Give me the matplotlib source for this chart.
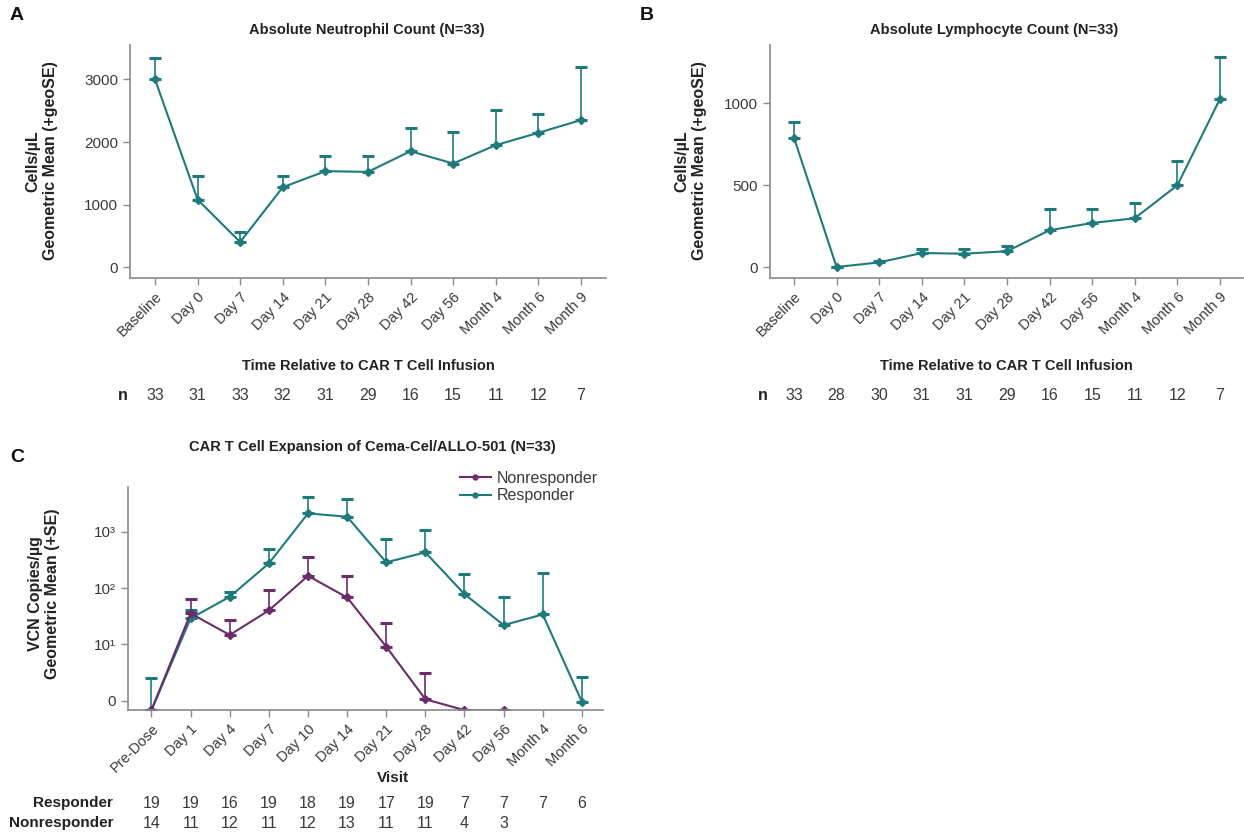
import numpy as np
import matplotlib
matplotlib.use("Agg")
import matplotlib.pyplot as plt
from matplotlib.transforms import blended_transform_factory
from matplotlib.lines import Line2D

plt.rcParams['font.family'] = ['Liberation Sans', 'DejaVu Sans']

# ---------------- data ----------------
timepoints_ab = ["Baseline", "Day 0", "Day 7", "Day 14", "Day 21", "Day 28",
                 "Day 42", "Day 56", "Month 4", "Month 6", "Month 9"]

anc_mean = [3000, 1082, 405, 1279, 1535, 1524, 1854, 1657, 1950, 2147, 2350]
anc_upper = [3341, 1455, 560, 1455, 1785, 1785, 2222, 2153, 2515, 2451, 3197]
anc_n = [33, 31, 33, 32, 31, 29, 16, 15, 11, 12, 7]

alc_mean = [789, 2, 30, 87, 83, 98, 226, 270, 299, 500, 1026]
alc_upper = [886, 2, 40, 114, 114, 132, 356, 358, 394, 646, 1280]
alc_n = [33, 28, 30, 31, 31, 29, 16, 15, 11, 12, 7]

visits_c = ["Pre-Dose", "Day 1", "Day 4", "Day 7", "Day 10", "Day 14", "Day 21",
            "Day 28", "Day 42", "Day 56", "Month 4", "Month 6"]
resp_mean = [0.68, 29, 70, 274, 2115, 1845, 286, 430, 78, 22, 34, 0.96]
resp_upper = [2.5, 41, 86, 486, 4200, 3855, 741, 1070, 177, 68, 182, 2.67]
nonresp_mean = [0.68, 35.5, 14.7, 40, 165, 68, 9.1, 1.06, 0.68, 0.68, np.nan, np.nan]
nonresp_upper = [0.68, 63, 27, 92, 360, 165, 23.6, 3.14, 0.68, 0.68, np.nan, np.nan]
resp_n = ["19", "19", "16", "19", "18", "19", "17", "19", "7", "7", "7", "6"]
nonresp_n = ["14", "11", "12", "11", "12", "13", "11", "11", "4", "3", "", ""]

TEAL = "#1E7A7B"
PURPLE = "#6B2C6B"
GREY = "#8A8A8A"
TXT = "#3A3A3A"

W, H = 1244, 835
fig = plt.figure(figsize=(W / 100, H / 100), dpi=100)


def px_axes(l, t, r, b):
    return fig.add_axes([l / W, 1 - b / H, (r - l) / W, (b - t) / H])


def style(ax):
    for s in ("top", "right"):
        ax.spines[s].set_visible(False)
    for s in ("left", "bottom"):
        ax.spines[s].set_color(GREY)
        ax.spines[s].set_linewidth(1.2)
    ax.tick_params(axis="both", colors=GREY, length=5, width=1.0, labelcolor=TXT,
                   labelsize=11)
    ax.tick_params(axis="x", labelsize=10.5)


def draw_series(ax, x, mean, upper, color, label=None):
    mean = np.asarray(mean, float)
    upper = np.asarray(upper, float)
    err = np.vstack([np.zeros_like(mean), upper - mean])
    ax.errorbar(x, mean, yerr=err, color=color, lw=1.5, marker="D", ms=4,
                elinewidth=1.2, capsize=4, capthick=2.2, label=label)


def ftext(x, y, s, **kw):
    fig.text(x / W, 1 - y / H, s, **kw)


def row_text(ax, xs, y, labels, **kw):
    tr = blended_transform_factory(ax.transData, fig.transFigure)
    for xi, lab in zip(xs, labels):
        ax.text(xi, 1 - y / H, str(lab), transform=tr, ha="center", va="center",
                fontsize=11.5, color=TXT, **kw)


# ---------------- Panel A ----------------
axA = px_axes(130, 45, 606, 278)
xA = np.arange(len(timepoints_ab))
draw_series(axA, xA, anc_mean, anc_upper, TEAL)
axA.set_xlim(-0.587, 10.59)
axA.set_ylim(-169, 3548)
axA.set_yticks([0, 1000, 2000, 3000])
axA.set_xticks(xA)
axA.set_xticklabels(timepoints_ab, rotation=45, ha="right", rotation_mode="anchor")
style(axA)
row_text(axA, xA, 396, anc_n)
ftext(123, 396, "n", ha="center", va="center", fontsize=11.5, fontweight="bold", color="#222222")
ftext(367, 30, "Absolute Neutrophil Count (N=33)", ha="center", va="center",
      fontsize=10.5, fontweight="bold", color="#222222")
ftext(368, 366, "Time Relative to CAR T Cell Infusion", ha="center", va="center",
      fontsize=10.5, fontweight="bold", color="#222222")
ftext(42, 161, "Cells/µL\nGeometric Mean (+geoSE)", ha="center", va="center",
      rotation=90, fontsize=11.5, fontweight="bold", color="#222222",
      multialignment="center", linespacing=1.2)
ftext(17, 15, "A", ha="center", va="center", fontsize=14, fontweight="bold", color="#111111")

# ---------------- Panel B ----------------
axB = px_axes(770, 45, 1243, 278)
draw_series(axB, xA, alc_mean, alc_upper, TEAL)
axB.set_xlim(-0.563, 10.54)
axB.set_ylim(-65, 1354)
axB.set_yticks([0, 500, 1000])
axB.set_xticks(xA)
axB.set_xticklabels(timepoints_ab, rotation=45, ha="right", rotation_mode="anchor")
style(axB)
row_text(axB, xA, 396, alc_n)
ftext(763, 396, "n", ha="center", va="center", fontsize=11.5, fontweight="bold", color="#222222")
ftext(994, 30, "Absolute Lymphocyte Count (N=33)", ha="center", va="center",
      fontsize=10.5, fontweight="bold", color="#222222")
ftext(1006, 366, "Time Relative to CAR T Cell Infusion", ha="center", va="center",
      fontsize=10.5, fontweight="bold", color="#222222")
ftext(691, 161, "Cells/µL\nGeometric Mean (+geoSE)", ha="center", va="center",
      rotation=90, fontsize=11.5, fontweight="bold", color="#222222",
      multialignment="center", linespacing=1.2)
ftext(647, 15, "B", ha="center", va="center", fontsize=14, fontweight="bold", color="#111111")

# ---------------- Panel C ----------------
axC = px_axes(128, 487, 603, 710)
xC = np.arange(len(visits_c))
draw_series(axC, xC, resp_mean, resp_upper, TEAL)
draw_series(axC, xC, nonresp_mean, nonresp_upper, PURPLE)
axC.set_yscale("log")
axC.set_xlim(-0.6, 11.54)
axC.set_ylim(10 ** -0.165, 10 ** 3.794)
axC.set_yticks([1, 10, 100, 1000])
axC.set_yticklabels(["0", "10¹", "10²", "10³"])
axC.yaxis.set_minor_locator(matplotlib.ticker.NullLocator())
axC.set_xticks(xC)
axC.set_xticklabels(visits_c, rotation=45, ha="right", rotation_mode="anchor")
style(axC)
handles = [Line2D([], [], color=PURPLE, lw=1.5, marker="o", ms=3.5),
           Line2D([], [], color=TEAL, lw=1.5, marker="o", ms=3.5)]
fig.legend(handles, ["Nonresponder", "Responder"], loc="upper right",
           bbox_to_anchor=(606 / W, 1 - 463 / H), frameon=False, fontsize=11.5,
           handlelength=1.9, handletextpad=0.4, labelspacing=0.15, borderpad=0,
           labelcolor=TXT)
row_text(axC, xC, 803, resp_n)
row_text(axC, xC, 823, nonresp_n)
ftext(113, 803, "Responder", ha="right", va="center", fontsize=11, fontweight="bold", color="#222222")
ftext(113, 823, "Nonresponder", ha="right", va="center", fontsize=11, fontweight="bold", color="#222222")
ftext(393, 778, "Visit", ha="center", va="center", fontsize=11, fontweight="bold", color="#222222")
ftext(372, 447, "CAR T Cell Expansion of Cema-Cel/ALLO-501 (N=33)", ha="center", va="center",
      fontsize=10.5, fontweight="bold", color="#222222")
ftext(44, 594, "VCN Copies/µg\nGeometric Mean (+SE)", ha="center", va="center",
      rotation=90, fontsize=11.5, fontweight="bold", color="#222222",
      multialignment="center", linespacing=1.2)
ftext(17, 458, "C", ha="center", va="center", fontsize=14, fontweight="bold", color="#111111")

fig.savefig("out.png", dpi=100, facecolor="white")
